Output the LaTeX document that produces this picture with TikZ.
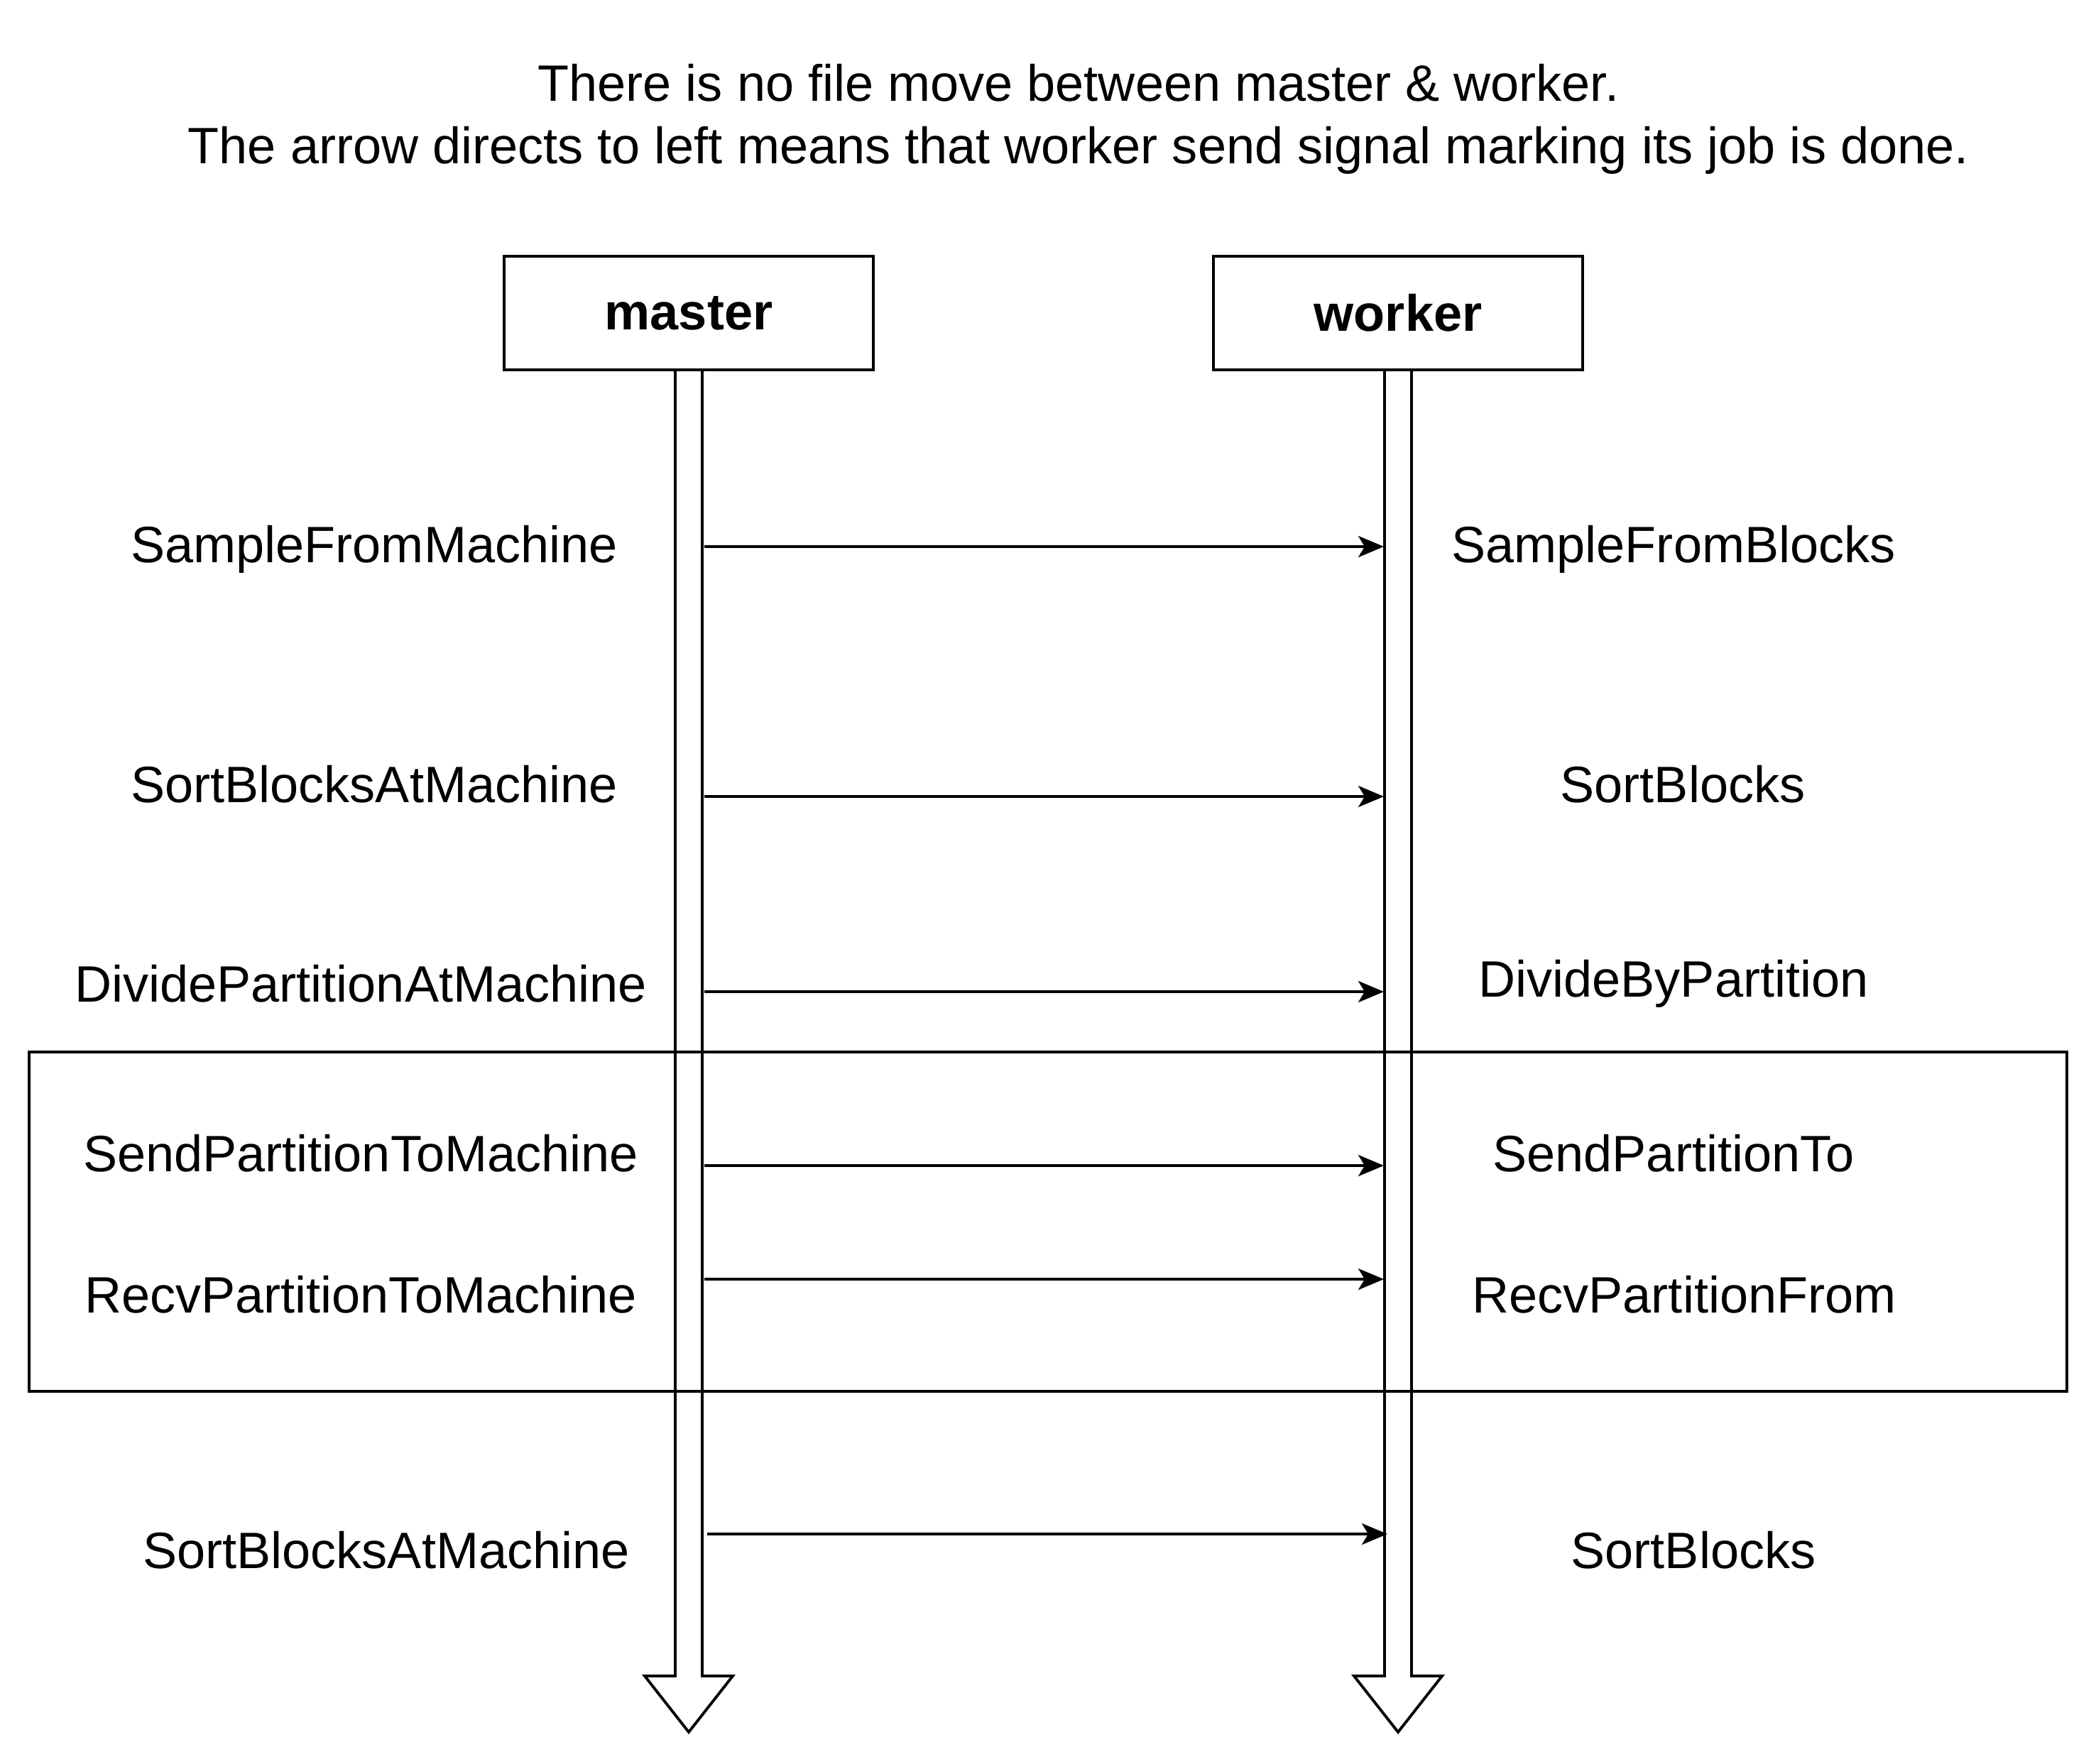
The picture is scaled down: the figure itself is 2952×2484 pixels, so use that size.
\documentclass[tikz,border=0pt]{standalone}
\usepackage{fontspec}
\setmainfont{Liberation Sans}
\usetikzlibrary{arrows.meta}

\tikzset{
	actor/.style={draw, line width=1.1pt, minimum width=5.19cm, minimum height=1.6cm, font=\fontsize{20.5}{25}\selectfont\bfseries},
	lbl/.style={font=\fontsize{20.5}{25}\selectfont},
	msg/.style={-{Stealth[length=0.36cm, width=0.3cm, inset=0.09cm]}, line width=1pt},
	life/.style={line width=1.1pt},
}

\begin{document}
\begin{tikzpicture}[x=0.01cm, y=-0.01cm]
	\useasboundingbox (0,0) rectangle (2952,2484);

	\node[lbl, align=center] (note) at (1519,168) {There is no file move between master \& worker.\\The arrow directs to left means that worker send signal marking its job is done.};

	\node[actor] (master) at (970,441) {master};
	\node[actor] (worker) at (1969,441) {worker};

	% exchange block
	\draw[life] (41,1482) rectangle (2911,1960);

	% lifelines
	\foreach \n/\c in {master/970, worker/1969}
		\draw[life] (\n.south -| {\c-19,0}) -- (\c-19,2361) -- (\c-62,2361) -- (\c,2440) -- (\c+62,2361) -- (\c+19,2361) -- (\n.south -| {\c+19,0});

	% calls
	\foreach \i/\y/\sx/\ex/\ly/\lx/\ltxt/\rx/\rtxt in {
		1/770/992/1949/774/527/SampleFromMachine/2357/SampleFromBlocks,
		2/1122/992/1949/1105/527/SortBlocksAtMachine/2370/SortBlocks,
		3/1397/992/1949/1386/508/DividePartitionAtMachine/2357/DivideByPartition,
		4/1642/992/1949/1625/508/SendPartitionToMachine/2357/SendPartitionTo,
		5/1802/992/1949/1824/508/RecvPartitionToMachine/2372/RecvPartitionFrom,
		6/2161/996/1954/2184/544/SortBlocksAtMachine/2385/SortBlocks}{
		\coordinate (m\i) at (\sx,\y);
		\coordinate (w\i) at (\ex,\y);
		\draw[msg] (m\i) -- (w\i);
		\node[lbl] (ml\i) at (\lx,\ly) {\ltxt};
		\node[lbl] (wl\i) at (\rx,\ly) {\rtxt};
	}
\end{tikzpicture}
\end{document}
